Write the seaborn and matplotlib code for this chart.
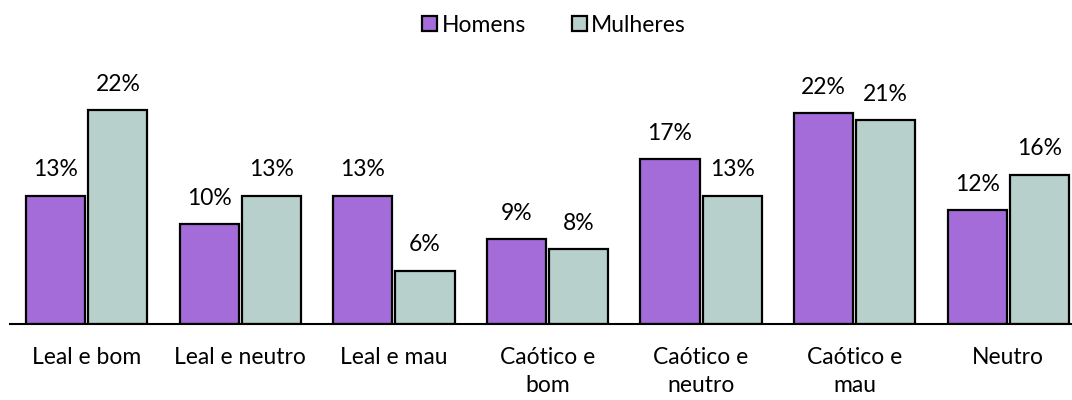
import pandas as pd
import seaborn as sns
import matplotlib.pyplot as plt

# data
categories = ["Leal e bom", "Leal e neutro", "Leal e mau", "Caótico e\nbom",
              "Caótico e\nneutro", "Caótico e\nmau", "Neutro"]
homens = [13.4, 10.4, 13.4, 8.9, 17.2, 22.0, 11.9]
mulheres = [22.3, 13.4, 5.6, 7.8, 13.4, 21.3, 15.6]
series = ["Homens", "Mulheres"]
colors = ["#A36CD9", "#B7D0CB"]

df = pd.DataFrame({
    "categoria": categories * 2,
    "grupo": [series[0]] * len(categories) + [series[1]] * len(categories),
    "valor": homens + mulheres,
})

sns.set_style("white")
plt.rcParams["font.family"] = ["Lato", "DejaVu Sans"]
plt.rcParams["text.color"] = "black"
plt.rcParams["xtick.color"] = "black"

fig = plt.figure(figsize=(10.72, 4.0), dpi=100)
ax = fig.add_axes([10 / 1072, 75.7 / 400, 1075 / 1072, 240 / 400])

sns.barplot(data=df, x="categoria", y="valor", hue="grupo", palette=colors,
            saturation=1, width=0.81, gap=0.05, edgecolor="black", linewidth=1.6,
            ax=ax, legend=True)

for cont in ax.containers:
    labels = [f"{v:.0f}%" for v in cont.datavalues]
    ax.bar_label(cont, labels=labels, padding=11, fontsize=16.5)

ax.set_ylim(0, 25)
ax.set_xlim(-0.5, len(categories) - 0.5)
ax.set_xlabel("")
ax.set_ylabel("")
ax.set_yticks([])
for s in ["top", "right", "left"]:
    ax.spines[s].set_visible(False)
ax.spines["bottom"].set_color("black")
ax.spines["bottom"].set_linewidth(1.5)
ax.tick_params(axis="x", length=0, pad=16, labelsize=16.5)
for t in ax.get_xticklabels():
    t.set_multialignment("center")
    t.set_linespacing(1.45)

handles, lbls = ax.get_legend_handles_labels()
ax.legend_.remove()
fig.legend(handles, lbls, loc="center", bbox_to_anchor=(554 / 1072, 1 - 25 / 400),
           ncol=2, frameon=False, fontsize=16.5, handlelength=0.65, handleheight=0.65,
           handletextpad=0.2, columnspacing=2.0)

fig.savefig("out.png", dpi=100)
